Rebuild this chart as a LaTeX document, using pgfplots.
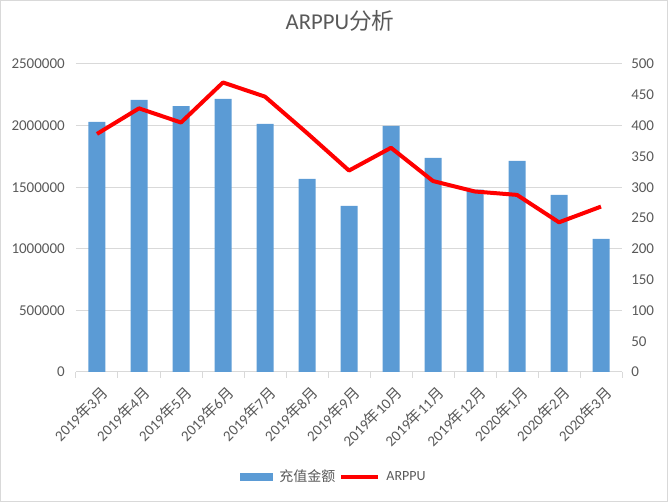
\documentclass[border=0pt]{standalone}
\usepackage{pgfplots}
\pgfplotsset{compat=1.18}
\usepackage{fontspec}
\setmainfont{Carlito}
\newfontfamily\cjk{Noto Sans CJK SC}
\definecolor{barblue}{HTML}{5B9BD5}
\definecolor{txtgray}{HTML}{595959}
\definecolor{gridgray}{HTML}{D9D9D9}
\newcommand{\ym}[2]{#1{\cjk 年}#2{\cjk 月}}
\begin{document}
\begin{tikzpicture}[x=1pt,y=1pt]
\draw[gridgray, line width=0.75pt] (-56.6,-97.1) rectangle (443.6,278.6);
\begin{axis}[
  at={(0,0)}, anchor=south west, scale only axis,
  width=409.5pt, height=231pt,
  xmin=-0.5, xmax=12.5, ymin=0, ymax=2500000,
  scaled y ticks=false,
  axis x line*=bottom, axis y line*=left,
  axis line style={-},
  x axis line style={gridgray, line width=0.75pt},
  y axis line style={draw=none},
  ymajorgrids, grid style={gridgray, line width=0.75pt},
  major tick length=0pt, minor tick length=4.5pt, tick align=outside,
  xtick={0,...,12},
  minor xtick={-0.5,0.5,...,12.5},
  minor x tick style={gridgray, line width=0.75pt},
  major x tick style={draw=none},
  ytick style={draw=none},
  ytick={0,500000,1000000,1500000,2000000,2500000},
  yticklabels={0,500000,1000000,1500000,2000000,2500000},
  xticklabels={\ym{2019}{3},\ym{2019}{4},\ym{2019}{5},\ym{2019}{6},\ym{2019}{7},\ym{2019}{8},\ym{2019}{9},\ym{2019}{10},\ym{2019}{11},\ym{2019}{12},\ym{2020}{1},\ym{2020}{2},\ym{2020}{3}},
  ticklabel style={font=\fontsize{11.25}{13}\selectfont, text=txtgray},
  yticklabel style={anchor=east, inner sep=0pt, xshift=-8.25pt},
  xticklabel style={inner sep=0pt, xshift=6pt, yshift=-13.5pt, rotate=45, anchor=east},
  title={ARPPU{\cjk 分析}},
  title style={at={(axis description cs:0.4835,1.1136)}, anchor=center, font=\fontsize{17}{20}\selectfont, text=txtgray, inner sep=0pt},
  legend style={at={(axis description cs:0.4707,-0.341)}, anchor=center, draw=none, fill=none,
    legend columns=2, font=\fontsize{10.5}{12}\selectfont, text=txtgray,
    nodes={inner sep=0pt},
    /tikz/every odd column/.append style={column sep=4.5pt},
    /tikz/every even column/.append style={column sep=3pt}},
  legend cell align=left,
]
\addplot[ybar, bar width=12.75pt, bar shift=0pt, fill=barblue, draw=none,
  legend image code/.code={\fill[barblue] (0pt,-3.3pt) rectangle (24.75pt,3.3pt);}]
  coordinates {(0,2030000) (1,2208000) (2,2159000) (3,2216000) (4,2013000) (5,1567000) (6,1348000) (7,1997000) (8,1738000) (9,1480000) (10,1713000) (11,1438000) (12,1081000)};
\addlegendentry{{\cjk 充值金额}}
\addlegendimage{red, line width=3pt, legend image code/.code={\draw (0pt,0pt) -- (27.75pt,0pt);}}
\addlegendentry{ARPPU}
\end{axis}
\begin{axis}[
  at={(0,0)}, anchor=south west, scale only axis,
  width=409.5pt, height=231pt,
  xmin=-0.5, xmax=12.5, ymin=0, ymax=500,
  axis x line=none, axis y line*=right,
  axis line style={-},
  y axis line style={draw=none},
  major tick length=0pt, ytick style={draw=none},
  ytick={0,50,...,500},
  yticklabels={0,50,100,150,200,250,300,350,400,450,500},
  ticklabel style={font=\fontsize{11.25}{13}\selectfont, text=txtgray},
  yticklabel style={anchor=west, inner sep=0pt, xshift=6.75pt},
]
\addplot[red, line width=3pt, line join=round] coordinates {(0,386.5) (1,428) (2,405) (3,470) (4,447) (5,388) (6,327) (7,364) (8,310) (9,293) (10,287.5) (11,243) (12,268.5)};
\end{axis}
\pgfresetboundingbox
\useasboundingbox (-57,-97.5) rectangle (444,279);
\end{tikzpicture}
\end{document}
